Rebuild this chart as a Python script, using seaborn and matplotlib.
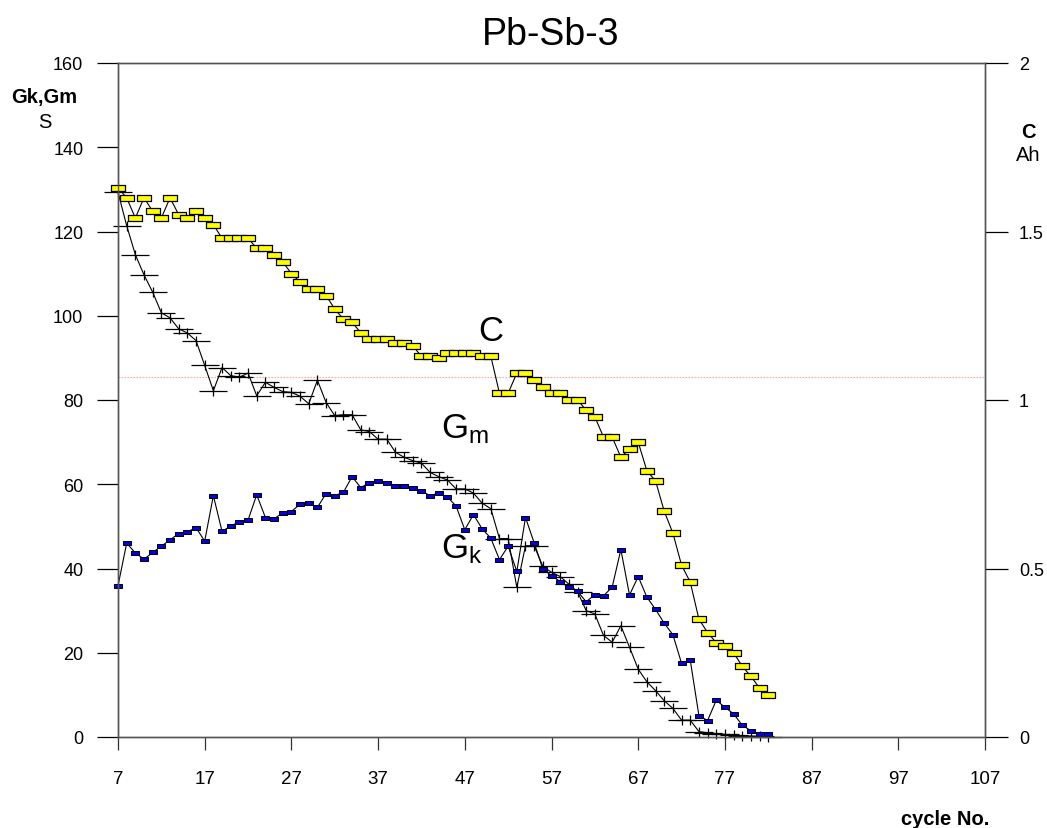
import numpy as np
import pandas as pd
import seaborn as sns
import matplotlib.pyplot as plt
from matplotlib.path import Path
from matplotlib.ticker import FormatStrFormatter

# cycle numbers 7..82
cycles = list(range(7, 83))

gm = [129.3, 121.4, 114.5, 109.7, 105.6, 100.7, 99.5, 96.9, 95.9, 94.1,
      88.2, 82.2, 87.7, 85.8, 85.4, 86.4, 81.0, 84.2, 83.0, 82.0,
      81.8, 80.9, 79.1, 84.7, 79.4, 76.3, 76.5, 76.5, 72.9, 72.5,
      70.7, 70.7, 67.6, 66.4, 65.6, 65.0, 62.8, 61.8, 61.0, 58.9,
      58.9, 57.9, 55.5, 54.2, 47.1, 47.1, 35.5, 45.4, 45.4, 40.5,
      39.1, 38.1, 36.3, 34.5, 30.0, 29.2, 24.1, 22.5, 26.4, 21.3,
      16.1, 13.1, 11.0, 8.6, 6.8, 4.0, 4.0, 1.3, 1.0, 0.8,
      0.6, 0.4, 0.3, 0.2, 0.15, 0.1]

gk = [35.9, 46.0, 43.7, 42.2, 43.8, 45.3, 46.8, 48.3, 48.7, 49.7,
      46.5, 57.3, 48.8, 50.1, 51.1, 51.5, 57.5, 52.1, 51.8, 53.2,
      53.5, 55.3, 55.6, 54.5, 57.8, 57.3, 58.1, 61.8, 59.2, 60.4,
      60.8, 60.4, 59.5, 59.7, 59.0, 58.4, 57.3, 57.9, 57.0, 54.8,
      49.2, 52.8, 49.4, 47.2, 42.1, 45.3, 39.3, 52.1, 46.1, 39.9,
      38.3, 36.9, 35.5, 34.6, 32.1, 33.8, 33.5, 35.6, 44.5, 33.7,
      38.1, 33.2, 30.3, 27.0, 24.3, 17.5, 18.3, 5.1, 3.9, 8.7,
      7.1, 5.5, 2.8, 1.5, 0.7, 0.7]

cap = [1.63, 1.60, 1.54, 1.60, 1.56, 1.54, 1.60, 1.55, 1.54, 1.56,
       1.54, 1.52, 1.48, 1.48, 1.48, 1.48, 1.45, 1.45, 1.43, 1.41,
       1.375, 1.35, 1.33, 1.33, 1.31, 1.27, 1.24, 1.23, 1.20, 1.18,
       1.18, 1.18, 1.17, 1.17, 1.16, 1.13, 1.13, 1.125, 1.14, 1.14,
       1.14, 1.14, 1.13, 1.13, 1.02, 1.02, 1.08, 1.08, 1.06, 1.04,
       1.02, 1.02, 1.00, 1.00, 0.97, 0.95, 0.89, 0.89, 0.83, 0.855,
       0.875, 0.79, 0.76, 0.67, 0.605, 0.51, 0.46, 0.35, 0.31, 0.28,
       0.27, 0.25, 0.21, 0.18, 0.145, 0.125]

ref_level = 85.5
xticks = [7, 17, 27, 37, 47, 57, 67, 77, 87, 97, 107]

df = pd.DataFrame({"cycle": cycles, "Gm": gm, "Gk": gk, "C": cap})

sns.set_style("ticks")
plt.rcParams['font.family'] = ['Liberation Sans', 'DejaVu Sans']
plt.rcParams['mathtext.default'] = 'regular'
plt.rcParams['text.color'] = 'black'

# custom markers
rect_c = Path([(-1.1, -0.5), (1.1, -0.5), (1.1, 0.5), (-1.1, 0.5), (-1.1, -0.5)],
              [Path.MOVETO, Path.LINETO, Path.LINETO, Path.LINETO, Path.CLOSEPOLY])
rect_k = Path([(-0.9, -0.5), (0.9, -0.5), (0.9, 0.5), (-0.9, 0.5), (-0.9, -0.5)],
              [Path.MOVETO, Path.LINETO, Path.LINETO, Path.LINETO, Path.CLOSEPOLY])
plus_m = Path([(-1, 0), (1, 0), (0, -0.4), (0, 0.4)],
              [Path.MOVETO, Path.LINETO, Path.MOVETO, Path.LINETO])

fig = plt.figure(figsize=(10.47, 8.29), dpi=100)
ax = fig.add_axes([118 / 1047, 91 / 829, 867 / 1047, 674 / 829])

ax.axhline(ref_level, color='#ff5a5a', lw=0.8, ls=(0, (1.5, 1.2)), alpha=0.55, zorder=1)

sns.lineplot(data=df, x="cycle", y="Gm", ax=ax, color='black', lw=0.8,
             marker=plus_m, markersize=19.5, markerfacecolor='none',
             markeredgecolor='black', markeredgewidth=0.9)
sns.lineplot(data=df, x="cycle", y="Gk", ax=ax, color='black', lw=0.8,
             marker=rect_k, markersize=5.3, markerfacecolor='#0000e0',
             markeredgecolor='black', markeredgewidth=0.7)

ax2 = ax.twinx()
sns.lineplot(data=df, x="cycle", y="C", ax=ax2, color='black', lw=0.8,
             marker=rect_c, markersize=10.2, markerfacecolor='#ffff00',
             markeredgecolor='black', markeredgewidth=0.9)

for ln in ax.lines[1:] + ax2.lines:
    ln.set_clip_on(False)

ax.set_xlim(7, 107)
ax.set_ylim(0, 160)
ax2.set_ylim(0, 2)
ax.set_xticks(xticks)
ax.set_yticks(np.arange(0, 161, 20))
ax2.set_yticks([0, 0.5, 1, 1.5, 2])
ax2.yaxis.set_major_formatter(FormatStrFormatter('%g'))

ax.set_xlabel("")
ax.set_ylabel("")
ax2.set_ylabel("")

for a in (ax, ax2):
    for s in a.spines.values():
        s.set_visible(True)
        s.set_color('#555555')
        s.set_linewidth(1.0)

ax.tick_params(axis='y', length=15, width=0.9, pad=10, labelsize=13,
               color='black', labelcolor='black')
ax.tick_params(axis='x', length=9.5, width=0.9, pad=14, labelsize=13.5,
               color='#333333', labelcolor='black')
ax2.tick_params(axis='y', length=16.5, width=0.9, pad=8, labelsize=13,
                color='black', labelcolor='black')

# series labels
ax.text(48.6, 94.3, "C", fontsize=25, ha='left', va='baseline')
ax.text(44.3, 71.2, "G$_m$", fontsize=25, ha='left', va='baseline')
ax.text(44.3, 42.7, "G$_k$", fontsize=25, ha='left', va='baseline')

fig.text(551 / 1047, 1 - 35 / 829, "Pb-Sb-3", fontsize=27, ha='center', va='center')
fig.text(44.5 / 1047, 1 - 98 / 829, "Gk,Gm", fontsize=14.5, fontweight='bold', ha='center', va='center')
fig.text(44.5 / 1047, 1 - 123 / 829, "S", fontsize=14.5, ha='center', va='center')
fig.text(1028 / 1047, 1 - 133 / 829, "C", fontsize=14.5, fontweight='bold', ha='center', va='center')
fig.text(1028 / 1047, 1 - 156 / 829, "Ah", fontsize=14.5, ha='center', va='center')
fig.text(945 / 1047, 1 - 820 / 829, "cycle No.", fontsize=14.5, fontweight='bold', ha='center', va='center')

plt.savefig("out.png", dpi=100)
